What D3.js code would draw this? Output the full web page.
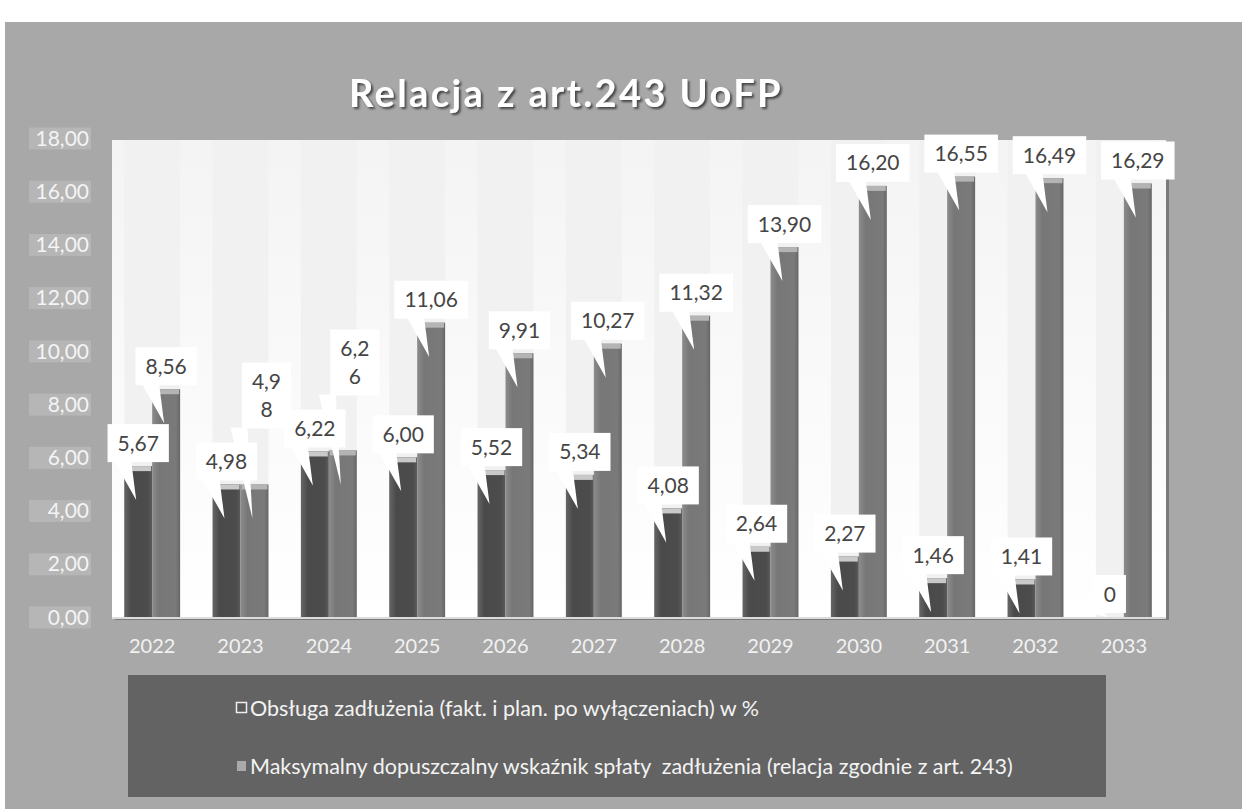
<!DOCTYPE html>
<html><head><meta charset="utf-8">
<script src="https://cdn.jsdelivr.net/npm/d3@7"></script>
<style>html,body{margin:0;padding:0;background:#fff;} svg{display:block;} text{white-space:pre;}</style>
</head><body>
<svg id="chart" width="1242" height="809"></svg>
<script>
// ---- data ----
const years = ["2022","2023","2024","2025","2026","2027","2028","2029","2030","2031","2032","2033"];
const obsluga = [5.67, 4.98, 6.22, 6.00, 5.52, 5.34, 4.08, 2.64, 2.27, 1.46, 1.41, 0];
const maksymalny = [8.56, 4.98, 6.26, 11.06, 9.91, 10.27, 11.32, 13.90, 16.20, 16.55, 16.49, 16.29];
const seriesKeys = ["obsluga", "maksymalny"];
const seriesNames = [
  "Obsługa zadłużenia (fakt. i plan. po wyłączeniach) w %",
  "Maksymalny dopuszczalny wskaźnik spłaty  zadłużenia (relacja zgodnie z art. 243)"
];
const yTicks = [0, 2, 4, 6, 8, 10, 12, 14, 16, 18];
const chartTitle = "Relacja z art.243 UoFP";

const rows = years.map((y, i) => ({year: y, obsluga: obsluga[i], maksymalny: maksymalny[i]}));

// ---- layout ----
const svg = d3.select("#chart");
const W = 1242, H = 809;
const plot = {left: 112, right: 1166, top: 140, bottom: 617};
const FONT = "Lato, 'Open Sans', sans-serif";
const pl = d3.formatLocale({decimal: ",", thousands: " ", grouping: [3], currency: ["", " zł"]});
const f2 = pl.format(".2f");
const labelText = v => v === 0 ? "0" : f2(v);

const x0 = d3.scaleBand().domain(years).range([108, 1168]).padding(0);
const x1 = d3.scaleBand().domain(seriesKeys).range([0, x0.bandwidth()]).paddingInner(0).paddingOuter(0.58);
const y = d3.scaleLinear().domain([0, 18]).range([617, 138]);

const defs = svg.append("defs");
const g1 = defs.append("linearGradient").attr("id", "gS1").attr("x1", 0).attr("x2", 1).attr("y1", 0).attr("y2", 0);
g1.append("stop").attr("offset", 0).attr("stop-color", "#666");
g1.append("stop").attr("offset", 0.25).attr("stop-color", "#4a4a4a");
g1.append("stop").attr("offset", 0.85).attr("stop-color", "#4c4c4c");
g1.append("stop").attr("offset", 1).attr("stop-color", "#5c5c5c");
const g2 = defs.append("linearGradient").attr("id", "gS2").attr("x1", 0).attr("x2", 1).attr("y1", 0).attr("y2", 0);
g2.append("stop").attr("offset", 0).attr("stop-color", "#8c8c8c");
g2.append("stop").attr("offset", 0.25).attr("stop-color", "#777");
g2.append("stop").attr("offset", 0.85).attr("stop-color", "#7a7a7a");
g2.append("stop").attr("offset", 1).attr("stop-color", "#666");
const gGap = defs.append("linearGradient").attr("id", "gGap").attr("x1", 0).attr("x2", 0).attr("y1", 0).attr("y2", 1);
gGap.append("stop").attr("offset", 0).attr("stop-color", "#fff").attr("stop-opacity", 0.2);
gGap.append("stop").attr("offset", 0.55).attr("stop-color", "#fff").attr("stop-opacity", 0.65);
gGap.append("stop").attr("offset", 1).attr("stop-color", "#fff").attr("stop-opacity", 1);
const sh = defs.append("filter").attr("id", "tshadow").attr("x", "-10%").attr("y", "-30%").attr("width", "120%").attr("height", "160%");
sh.append("feDropShadow").attr("dx", 2).attr("dy", 2).attr("stdDeviation", 1.2).attr("flood-color", "#3a3a3a").attr("flood-opacity", 0.9);

// page + chart background
svg.append("rect").attr("x", 0).attr("y", 0).attr("width", W).attr("height", H).attr("fill", "#ffffff");
svg.append("rect").attr("x", 5).attr("y", 22).attr("width", W - 5).attr("height", H - 22).attr("fill", "#a8a8a8");

// title
svg.append("text").attr("x", 566).attr("y", 107).attr("text-anchor", "middle")
  .attr("font-family", FONT).attr("font-weight", "bold").attr("font-size", 38)
  .attr("letter-spacing", 2.4).attr("fill", "#ffffff").attr("filter", "url(#tshadow)").text(chartTitle);

// plot area
svg.append("rect").attr("x", plot.left + 3).attr("y", plot.top + 3).attr("width", plot.right - plot.left).attr("height", plot.bottom - plot.top)
  .attr("fill", "#7a7a7a");
svg.append("rect").attr("x", plot.left).attr("y", plot.top).attr("width", plot.right - plot.left).attr("height", plot.bottom - plot.top)
  .attr("fill", "#f1f1f1");
// lighter gaps between column groups
years.forEach((d, i) => {
  const start = i === 0 ? plot.left : x0(years[i - 1]) + x1("maksymalny") + x1.bandwidth();
  const end = x0(d) + x1("obsluga");
  svg.append("rect").attr("x", start).attr("y", plot.top).attr("width", end - start).attr("height", plot.bottom - plot.top).attr("fill", "url(#gGap)");
});
{
  const start = x0(years[years.length - 1]) + x1("maksymalny") + x1.bandwidth();
  svg.append("rect").attr("x", start).attr("y", plot.top).attr("width", plot.right - start).attr("height", plot.bottom - plot.top).attr("fill", "url(#gGap)");
}

// y axis
const yAxis = d3.axisLeft(y).tickValues(yTicks).tickFormat(f2).tickSize(0).tickPadding(0);
const ya = svg.append("g").attr("transform", "translate(89,0)").call(yAxis);
ya.select(".domain").remove();
ya.selectAll(".tick text").attr("font-family", FONT).attr("font-size", 21).attr("fill", "#f4f4f4").attr("dy", "0.34em");
ya.selectAll(".tick").insert("rect", "text").attr("x", -60).attr("y", -11).attr("width", 62).attr("height", 22).attr("fill", "#b6b6b6");

// x axis
const xAxis = d3.axisBottom(x0).tickSize(0).tickPadding(0);
const xa = svg.append("g").attr("transform", "translate(0,639)").call(xAxis);
xa.select(".domain").remove();
xa.selectAll(".tick text").attr("font-family", FONT).attr("font-size", 20).attr("fill", "#f2f2f2").attr("dy", "0.71em");

// bars
const groups = svg.append("g").selectAll("g").data(rows).join("g").attr("transform", d => `translate(${x0(d.year)},0)`);
groups.selectAll("rect.bar").data(d => seriesKeys.map(k => ({key: k, value: d[k]}))).join("rect")
  .attr("class", "bar")
  .attr("x", d => x1(d.key)).attr("width", x1.bandwidth())
  .attr("y", d => y(d.value)).attr("height", d => y(0) - y(d.value))
  .attr("fill", d => d.key === "obsluga" ? "url(#gS1)" : "url(#gS2)");
groups.selectAll("rect.cap").data(d => seriesKeys.map(k => ({key: k, value: d[k]})).filter(e => e.value > 0)).join("rect")
  .attr("class", "cap")
  .attr("x", d => x1(d.key) + 1).attr("width", x1.bandwidth() - 2)
  .attr("y", d => y(d.value)).attr("height", 5)
  .attr("fill", d => d.key === "obsluga" ? "#c9c9c9" : "#b4b4b4");

// bottom edge of plot
svg.append("line").attr("x1", plot.left).attr("x2", plot.right).attr("y1", plot.bottom + 1).attr("y2", plot.bottom + 1)
  .attr("stroke", "#dcdcdc").attr("stroke-width", 2);

// ---- data callouts ----
const measure = svg.append("text").attr("font-family", FONT).attr("font-size", 21).attr("visibility", "hidden");
const tw = s => { measure.text(s); return measure.node().getComputedTextLength(); };
const BOX_H = 38, PAD = 10, LINE = 28;
const labels = [];
rows.forEach(d => {
  const c1 = x0(d.year) + x1("obsluga") + x1.bandwidth() / 2;
  const c2 = x0(d.year) + x1("maksymalny") + x1.bandwidth() / 2;
  const t1 = labelText(d.obsluga), t2 = labelText(d.maksymalny);
  const top1 = y(d.obsluga), top2 = y(d.maksymalny);
  const l1 = {cx: c1, barCx: c1, top: top1, lines: [t1], cy: top1 - 23};
  let l2 = {cx: c2, barCx: c2, top: top2, lines: [t2], cy: top2 - 23};
  // avoid collision with first series label: move up and wrap narrower
  if (Math.abs(l2.cy - l1.cy) < BOX_H + 4) {
    l2 = {cx: c2 + 12, barCx: c2, top: top2, lines: [t2.slice(0, 3), t2.slice(3)], cy: l1.cy - 66};
  }
  labels.push(l2, l1);
});
const lg = svg.append("g");
labels.forEach(l => {
  const w = d3.max(l.lines, tw) + 2 * PAD;
  const h = l.lines.length === 1 ? BOX_H : BOX_H + LINE * (l.lines.length - 1);
  const bx = l.cx - w / 2, by = l.cy - h / 2;
  const bottom = by + h;
  const tipY = Math.min(l.top + 34, y(0));
  const tipX = l.barCx - 2;
  const g = lg.append("g");
  g.append("path").attr("d", `M${l.barCx - 24},${bottom - 1} L${l.barCx - 7},${bottom - 1} L${tipX},${tipY} Z`).attr("fill", "#ffffff");
  g.append("rect").attr("x", bx).attr("y", by).attr("width", w).attr("height", h).attr("fill", "#ffffff");
  l.lines.forEach((s, i) => {
    g.append("text").attr("x", l.cx).attr("y", l.cy - (l.lines.length - 1) * LINE / 2 + i * LINE)
      .attr("dy", "0.36em").attr("text-anchor", "middle")
      .attr("font-family", FONT).attr("font-size", 21).attr("fill", "#454545").text(s);
  });
});
measure.remove();

// ---- legend ----
const leg = svg.append("g");
leg.append("rect").attr("x", 128).attr("y", 675).attr("width", 978).attr("height", 122).attr("fill", "#636363");
const legY = [708, 766];
seriesNames.forEach((name, i) => {
  if (i === 0) {
    leg.append("rect").attr("x", 236.5).attr("y", legY[i] - 5.5).attr("width", 10).attr("height", 10)
      .attr("fill", "#5a5a5a").attr("stroke", "#eeeeee").attr("stroke-width", 1.5);
  } else {
    leg.append("rect").attr("x", 237).attr("y", legY[i] - 5).attr("width", 9).attr("height", 10).attr("fill", "#a9a9a9");
  }
  leg.append("text").attr("x", 250).attr("y", legY[i]).attr("dy", "0.35em")
    .attr("font-family", FONT).attr("font-size", 21.5).attr("fill", "#f3f3f3").text(name);
});
</script>
</body></html>
